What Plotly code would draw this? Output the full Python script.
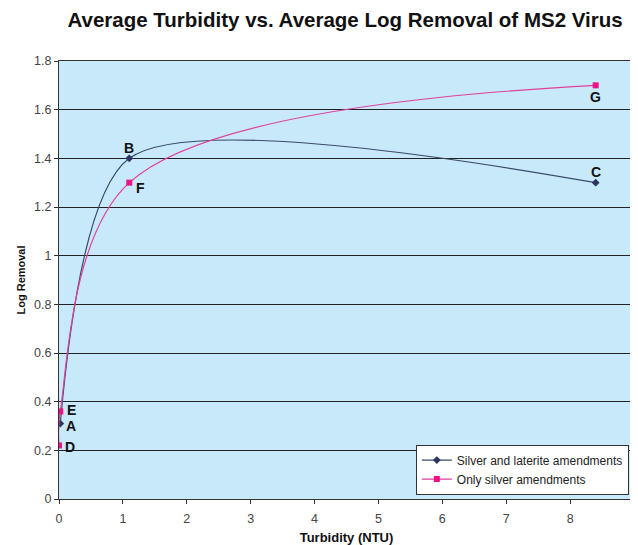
import plotly.graph_objects as go

laterite_x = [0.02, 1.1, 8.4]
laterite_y = [0.31, 1.40, 1.30]
laterite_labels = ["A", "B", "C"]

silver_x = [0.0, 0.02, 1.1, 8.4]
silver_y = [0.22, 0.36, 1.30, 1.70]
silver_labels = ["D", "E", "F", "G"]

x_ticks = list(range(0, 10))
y_ticks = [0, 0.2, 0.4, 0.6, 0.8, 1, 1.2, 1.4, 1.6, 1.8]
y_tick_text = ["0", "0.2", "0.4", "0.6", "0.8", "1", "1.2", "1.4", "1.6", "1.8"]

fig = go.Figure()
fig.add_trace(go.Scatter(
    x=laterite_x, y=laterite_y, mode="lines+markers",
    name="Silver and laterite amendments",
    line=dict(color="#3a4a6a", width=1.2, shape="spline", smoothing=0.75),
    marker=dict(symbol="diamond", size=6, color="#2c3560"),
))
fig.add_trace(go.Scatter(
    x=silver_x, y=silver_y, mode="lines+markers",
    name="Only silver amendments",
    line=dict(color="#e0409a", width=1.2, shape="spline", smoothing=1.0),
    marker=dict(symbol="square", size=6, color="#ee1188"),
))

lab_font = dict(family="Liberation Sans, Arial", size=14, color="#111111")
offsets = {"A": (11, -2), "B": (0, 10), "C": (0, 11), "D": (11, -2),
           "E": (11, 1), "F": (11, -5), "G": (0, -12)}
for xs, ys, labs in [(laterite_x, laterite_y, laterite_labels), (silver_x, silver_y, silver_labels)]:
    for xv, yv, lb in zip(xs, ys, labs):
        dx, dy = offsets[lb]
        fig.add_annotation(x=xv, y=yv, text=f"<b>{lb}</b>", showarrow=False,
                           xshift=dx, yshift=dy, font=lab_font)

fig.update_layout(
    width=630, height=537,
    margin=dict(l=51, r=4, t=53, b=46, autoexpand=False),
    paper_bgcolor="white",
    plot_bgcolor="#c8e9f9",
    title=dict(text="<b>Average Turbidity vs. Average Log Removal of MS2 Virus</b>",
               x=0.535, xanchor="center", y=0.978, yanchor="middle",
               font=dict(family="Liberation Sans, Arial", size=20.5, color="#111111")),
    font=dict(family="Liberation Sans, Arial", size=12.5, color="#444444"),
    showlegend=True,
    legend=dict(x=0.991, y=0.01, xanchor="right", yanchor="bottom",
                bgcolor="white", bordercolor="#333333", borderwidth=1,
                font=dict(size=12, color="#222222"), tracegroupgap=0,
                itemwidth=30),
    xaxis=dict(range=[0, 9], tickvals=x_ticks, showgrid=False, zeroline=False,
               showline=True, linecolor="#333333", linewidth=1, mirror=True,
               ticks="outside", ticklen=4, tickcolor="#333333", automargin=False,
               ticklabelstandoff=4,
               title=dict(text="<b>Turbidity (NTU)</b>", standoff=14,
                          font=dict(size=13, color="#111111"))),
    yaxis=dict(range=[0, 1.8], tickvals=y_ticks, ticktext=y_tick_text,
               showgrid=True, gridcolor="#222222", gridwidth=1, zeroline=False,
               showline=True, linecolor="#333333", linewidth=1, mirror=True,
               ticks="outside", ticklen=4, tickcolor="#333333", automargin=False,
               title=dict(text="<b>Log Removal</b>", standoff=6,
                          font=dict(size=11, color="#111111"))),
)

fig.write_html("out.html")
